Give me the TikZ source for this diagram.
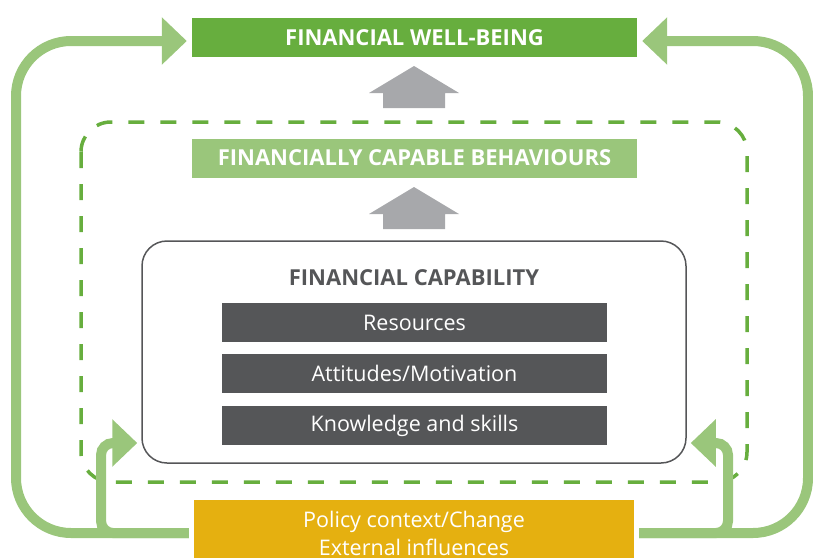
\documentclass[tikz,border=0pt]{standalone}
\usepackage{fontspec}
\setmainfont{Open Sans}
\usetikzlibrary{arrows.meta}
\definecolor{wellgreen}{HTML}{67AE3E}
\definecolor{lightgreen}{HTML}{9AC67B}
\definecolor{arrowgrey}{HTML}{A7A8AB}
\definecolor{slate}{HTML}{555658}
\definecolor{policygold}{HTML}{E5B010}
% grey block arrow, drawn from its tip downwards
\newcommand{\blockarrow}[1]{\fill[arrowgrey] (#1) -- ++(45,27) -- ++(-14,0) -- ++(0,15) -- ++(-62,0) -- ++(0,-15) -- ++(-14,0) -- cycle;}
\begin{document}
\begin{tikzpicture}[x=1pt,y=-1pt,
    banner/.style={minimum width=445pt, minimum height=39pt, inner sep=0pt, text=white, font=\bfseries\fontsize{22}{22}\selectfont},
    item/.style={fill=slate, minimum width=385pt, minimum height=39pt, inner sep=0pt, text=white, font=\fontsize{21.5}{22}\selectfont},
    loop/.style={lightgreen, line width=10pt, -{Triangle[length=25pt,width=46pt]}}]
    \useasboundingbox (0,0) rectangle (813,557);
    \clip (0,0) rectangle (813,557);
    % outcome banners
    \node[banner, fill=wellgreen] (wellbeing) at (414.5,37.5) {FINANCIAL WELL-BEING};
    \node[banner, fill=lightgreen] (behaviours) at (414.5,158) {FINANCIALLY CAPABLE BEHAVIOURS};
    \blockarrow{414,66}
    \blockarrow{414,187}
    % dashed frame round behaviours and capability
    \draw[wellgreen, line width=3.5pt, dash pattern=on 16pt off 16pt, rounded corners=30pt] (81,122) rectangle (747,482);
    % capability box with its three parts
    \node[draw=slate, line width=1.5pt, rounded corners=25pt, minimum width=544pt, minimum height=222pt] (capability) at (414,352) {};
    \node[text=slate, font=\bfseries\fontsize{22}{22}\selectfont] (title) at (414,278) {FINANCIAL CAPABILITY};
    \node[item] (resources) at (414.5,322.5) {Resources};
    \node[item] (attitudes) at (414.5,373.5) {Attitudes/Motivation};
    \node[item] (knowledge) at (414.5,425.5) {Knowledge and skills};
    % context box at the foot
    \node[fill=policygold, text=white, align=center, inner sep=0pt, minimum width=440pt, minimum height=66pt, font=\fontsize{21.5}{28}\selectfont] (policy) at (414,533) {Policy context/Change\\External influences};
    % feedback loops
    \coordinate (leftbottom) at (16,533);
    \coordinate (lefttop) at (16,41);
    \coordinate (rightbottom) at (808,533);
    \coordinate (righttop) at (808,41);
    \coordinate (leftfork) at (101,533);
    \coordinate (rightfork) at (728,533);
    \coordinate (leftturn) at (101,443);
    \coordinate (rightturn) at (728,443);
    \draw[loop, rounded corners=55pt, shorten <=5pt, shorten >=5pt] (policy.west) -- (leftbottom) -- (lefttop) -- (lefttop -| wellbeing.west);
    \draw[loop, rounded corners=55pt, shorten <=5pt, shorten >=5pt] (policy.east) -- (rightbottom) -- (righttop) -- (righttop -| wellbeing.east);
    \draw[loop, rounded corners=12pt, shorten <=5pt, shorten >=4pt] (policy.west) -- (leftfork) -- (leftturn) -- (leftturn -| capability.west);
    \draw[loop, rounded corners=12pt, shorten <=5pt, shorten >=4pt] (policy.east) -- (rightfork) -- (rightturn) -- (rightturn -| capability.east);
\end{tikzpicture}
\end{document}
